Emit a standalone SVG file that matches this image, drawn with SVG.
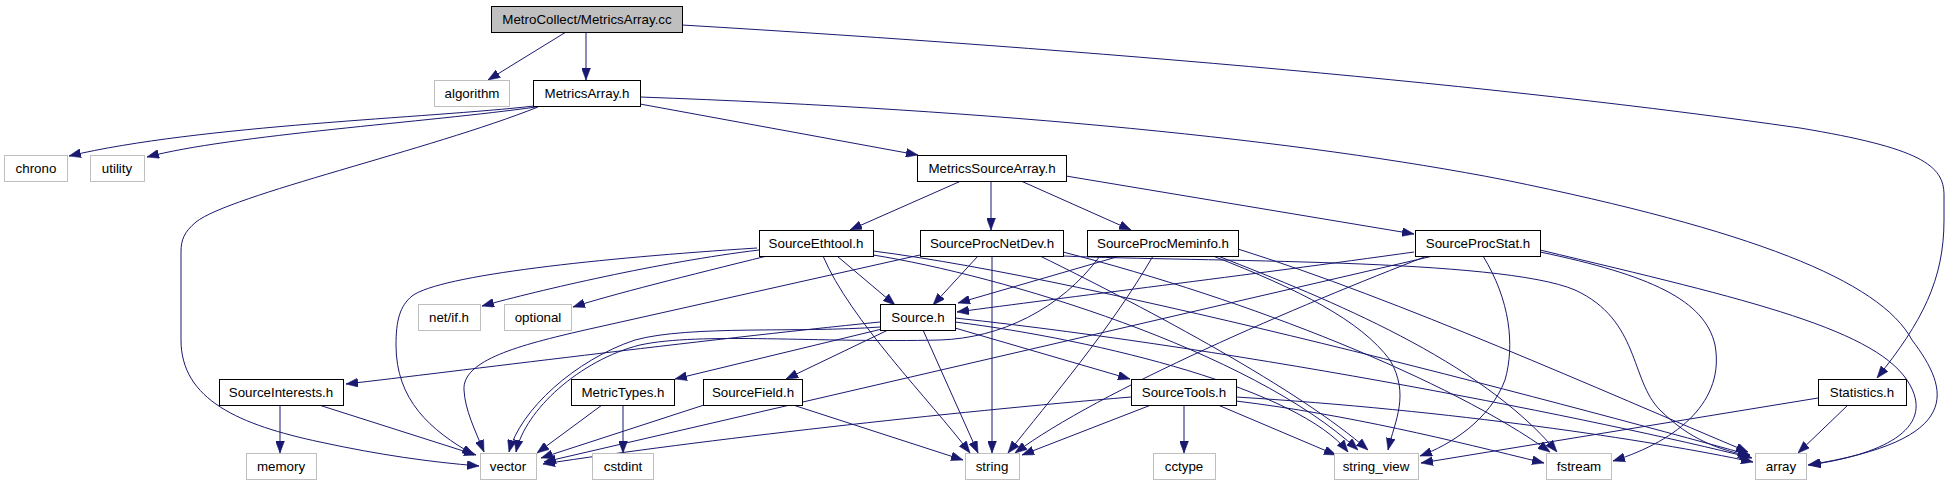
<svg xmlns="http://www.w3.org/2000/svg" width="1950" height="485" viewBox="0 0 1950 485">
<style>
.n rect{fill:#ffffff;stroke:#000000;stroke-width:1}
.s rect{fill:#ffffff;stroke:#bfbfbf;stroke-width:1}
.r rect{fill:#bfbfbf;stroke:#000000;stroke-width:1}
text{font-family:"Liberation Sans",Arial,sans-serif;font-size:13.33px;fill:#000000;text-anchor:middle}
#edges path{fill:none;stroke:#191970;stroke-width:1;marker-end:url(#ah)}
</style>
<defs>
<marker id="ah" markerUnits="userSpaceOnUse" markerWidth="12" markerHeight="9" viewBox="0 0 12 9" refX="12" refY="4.5" orient="auto">
<path d="M0,0 L12,4.5 L0,9 z" fill="#191970" stroke="#191970" stroke-width="0.5"/>
</marker>
</defs>
<rect width="1950" height="485" fill="#ffffff"/>
<g id="edges">
<path d="M566,32 L488,80"/>
<path d="M586,32 L586,80"/>
<path d="M682,25 C1100,50 1500,85 1800,128 C1920,148 1944,165 1944,195 L1944,220 C1944,280 1922,322 1877,378"/>
<path d="M534,106 C430,118 200,125 69,156"/>
<path d="M536,107 C430,122 230,135 147,157"/>
<path d="M538,107 C430,150 230,195 196,222 C184,232 181,240 181,252 L181,340 C181,400 240,425 320,442 C380,455 430,462 479,466"/>
<path d="M640,97 C1000,110 1300,140 1505,180 C1750,230 1880,280 1912,340 C1950,390 1965,440 1808,465"/>
<path d="M640,104 L918,155"/>
<path d="M961,181 L850,230"/>
<path d="M991,181 L991,230"/>
<path d="M1021,181 L1131,230"/>
<path d="M1066,176 L1414,234"/>
<path d="M759,250 C660,262 540,290 482,306"/>
<path d="M767,256 C690,275 610,295 573,307"/>
<path d="M757,248 C600,258 440,275 412,296 C400,306 396,320 396,345 C396,400 430,430 474,455"/>
<path d="M837,256 L895,305"/>
<path d="M823,256 C850,320 930,400 970,453"/>
<path d="M873,255 C1000,275 1250,350 1358,450"/>
<path d="M873,251 C1100,280 1550,400 1750,455"/>
<path d="M978,256 L933,305"/>
<path d="M920,255 L585,330 C520,345 462,360 464,390 C465,410 475,430 484,452"/>
<path d="M992,256 L992,453"/>
<path d="M1040,256 C1150,310 1300,390 1368,450"/>
<path d="M1063,252 C1250,300 1450,380 1550,452"/>
<path d="M1063,256 C1200,262 1500,258 1575,290 C1640,320 1630,380 1660,410 C1690,440 1720,450 1750,456"/>
<path d="M1120,256 L958,303"/>
<path d="M1153,256 C1110,330 1050,400 1008,453"/>
<path d="M1213,256 C1300,290 1360,320 1390,360 C1410,395 1395,420 1388,450"/>
<path d="M1218,256 C1330,300 1480,360 1557,452"/>
<path d="M1238,249 C1400,300 1600,390 1748,452"/>
<path d="M1100,256 C1060,310 1000,338 940,340 C820,343 700,332 640,345 C580,360 525,410 516,452"/>
<path d="M880,322 C700,340 450,372 346,384"/>
<path d="M880,327 C800,333 690,325 635,340 C575,360 520,410 509,452"/>
<path d="M882,329 L675,379"/>
<path d="M888,330 L786,379"/>
<path d="M923,330 L978,453"/>
<path d="M955,328 L1130,379"/>
<path d="M955,322 C1100,340 1300,390 1348,452"/>
<path d="M955,318 C1250,350 1600,420 1752,458"/>
<path d="M1414,252 C1250,275 1060,298 957,312"/>
<path d="M1433,256 L544,462"/>
<path d="M1427,256 C1300,305 1100,390 1015,453"/>
<path d="M1483,256 C1510,300 1515,345 1505,380 C1490,420 1450,445 1420,456"/>
<path d="M1540,252 C1650,275 1705,300 1715,345 C1725,400 1680,440 1613,461"/>
<path d="M1540,250 C1750,300 1880,330 1910,385 C1935,430 1880,455 1809,465"/>
<path d="M280,405 L280,453"/>
<path d="M319,405 L476,455"/>
<path d="M602,405 L537,453"/>
<path d="M623,405 L623,453"/>
<path d="M704,405 L541,458"/>
<path d="M793,405 L963,460"/>
<path d="M1131,397 C950,412 700,440 543,464"/>
<path d="M1151,405 L1022,455"/>
<path d="M1184,405 L1184,453"/>
<path d="M1218,405 L1336,455"/>
<path d="M1236,401 C1350,415 1450,440 1544,463"/>
<path d="M1236,397 C1450,410 1650,440 1753,462"/>
<path d="M1818,398 L1421,463"/>
<path d="M1848,405 L1798,453"/>
</g>
<g id="node-root" class="r"><rect x="491.5" y="6.5" width="191" height="26"/><text x="587" y="24">MetroCollect/MetricsArray.cc</text></g>
<g id="node-algorithm" class="s"><rect x="434.5" y="80.5" width="75" height="26"/><text x="472" y="98">algorithm</text></g>
<g id="node-MetricsArray" class="n"><rect x="533.5" y="80.5" width="107" height="26"/><text x="587" y="98">MetricsArray.h</text></g>
<g id="node-chrono" class="s"><rect x="4.5" y="155.5" width="63" height="26"/><text x="36" y="173">chrono</text></g>
<g id="node-utility" class="s"><rect x="90.5" y="155.5" width="54" height="26"/><text x="117" y="173">utility</text></g>
<g id="node-MetricsSourceArray" class="n"><rect x="917.5" y="155.5" width="149" height="26"/><text x="992" y="173">MetricsSourceArray.h</text></g>
<g id="node-SourceEthtool" class="n"><rect x="759.5" y="230.5" width="114" height="26"/><text x="816" y="248">SourceEthtool.h</text></g>
<g id="node-SourceProcNetDev" class="n"><rect x="920.5" y="230.5" width="143" height="26"/><text x="992" y="248">SourceProcNetDev.h</text></g>
<g id="node-SourceProcMeminfo" class="n"><rect x="1087.5" y="230.5" width="151" height="26"/><text x="1163" y="248">SourceProcMeminfo.h</text></g>
<g id="node-SourceProcStat" class="n"><rect x="1415.5" y="230.5" width="125" height="26"/><text x="1478" y="248">SourceProcStat.h</text></g>
<g id="node-netif" class="s"><rect x="418.5" y="304.5" width="62" height="26"/><text x="449" y="322">net/if.h</text></g>
<g id="node-optional" class="s"><rect x="504.5" y="304.5" width="67" height="26"/><text x="538" y="322">optional</text></g>
<g id="node-Source" class="n"><rect x="880.5" y="304.5" width="75" height="26"/><text x="918" y="322">Source.h</text></g>
<g id="node-SourceInterests" class="n"><rect x="219.5" y="379.5" width="124" height="26"/><text x="281" y="397">SourceInterests.h</text></g>
<g id="node-MetricTypes" class="n"><rect x="571.5" y="379.5" width="103" height="26"/><text x="623" y="397">MetricTypes.h</text></g>
<g id="node-SourceField" class="n"><rect x="703.5" y="379.5" width="99" height="26"/><text x="753" y="397">SourceField.h</text></g>
<g id="node-SourceTools" class="n"><rect x="1131.5" y="379.5" width="105" height="26"/><text x="1184" y="397">SourceTools.h</text></g>
<g id="node-Statistics" class="n"><rect x="1818.5" y="379.5" width="88" height="26"/><text x="1862" y="397">Statistics.h</text></g>
<g id="node-memory" class="s"><rect x="246.5" y="453.5" width="70" height="26"/><text x="281" y="471">memory</text></g>
<g id="node-vector" class="s"><rect x="480.5" y="453.5" width="56" height="26"/><text x="508" y="471">vector</text></g>
<g id="node-cstdint" class="s"><rect x="592.5" y="453.5" width="61" height="26"/><text x="623" y="471">cstdint</text></g>
<g id="node-string" class="s"><rect x="965.5" y="453.5" width="54" height="26"/><text x="992" y="471">string</text></g>
<g id="node-cctype" class="s"><rect x="1153.5" y="453.5" width="62" height="26"/><text x="1184" y="471">cctype</text></g>
<g id="node-string_view" class="s"><rect x="1334.5" y="453.5" width="84" height="26"/><text x="1376" y="471">string_view</text></g>
<g id="node-fstream" class="s"><rect x="1546.5" y="453.5" width="65" height="26"/><text x="1579" y="471">fstream</text></g>
<g id="node-array" class="s"><rect x="1755.5" y="453.5" width="51" height="26"/><text x="1781" y="471">array</text></g>
</svg>
